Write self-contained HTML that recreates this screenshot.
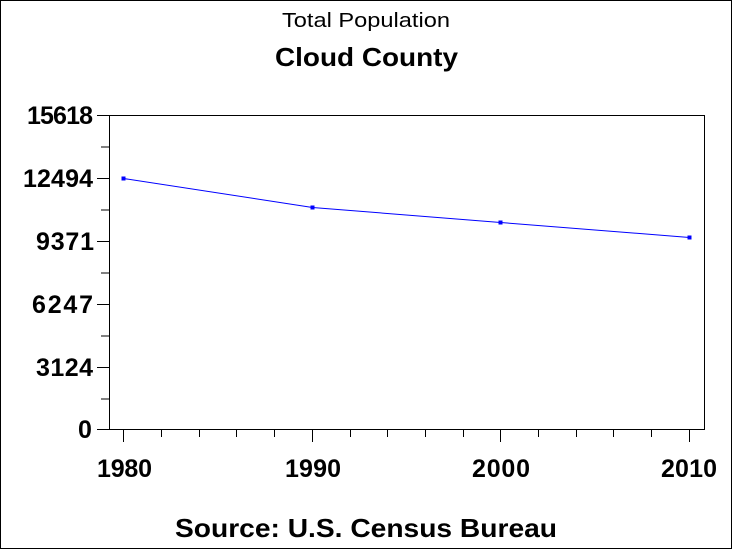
<!DOCTYPE html>
<html><head><style>
body{margin:0;background:#fff}
svg{display:block}
text{font-family:"Liberation Sans",sans-serif}
</style></head><body>
<svg width="733" height="550" viewBox="0 0 733 550">
<rect x="0.5" y="0.5" width="731" height="548" fill="#fff" stroke="#000"/>
<text x="282" y="27" font-size="20" textLength="168" lengthAdjust="spacingAndGlyphs">Total Population</text>
<text x="275" y="66" font-size="26" font-weight="bold" textLength="183" lengthAdjust="spacingAndGlyphs">Cloud County</text>
<rect x="109.5" y="115.5" width="595" height="314" fill="none" stroke="#000"/>
<g stroke="#000">
<line x1="97" y1="115.5" x2="109" y2="115.5"/>
<line x1="101" y1="147" x2="109" y2="147"/>
<line x1="97" y1="178.5" x2="109" y2="178.5"/>
<line x1="101" y1="210" x2="109" y2="210"/>
<line x1="97" y1="241.5" x2="109" y2="241.5"/>
<line x1="101" y1="273" x2="109" y2="273"/>
<line x1="97" y1="304.5" x2="109" y2="304.5"/>
<line x1="101" y1="336" x2="109" y2="336"/>
<line x1="97" y1="367.5" x2="109" y2="367.5"/>
<line x1="101" y1="399" x2="109" y2="399"/>
<line x1="97" y1="429.5" x2="109" y2="429.5"/>
<line x1="123.5" y1="430" x2="123.5" y2="442"/>
<line x1="161.5" y1="430" x2="161.5" y2="437"/>
<line x1="199.5" y1="430" x2="199.5" y2="437"/>
<line x1="236.5" y1="430" x2="236.5" y2="437"/>
<line x1="274.5" y1="430" x2="274.5" y2="437"/>
<line x1="312.5" y1="430" x2="312.5" y2="442"/>
<line x1="350.5" y1="430" x2="350.5" y2="437"/>
<line x1="387.5" y1="430" x2="387.5" y2="437"/>
<line x1="425.5" y1="430" x2="425.5" y2="437"/>
<line x1="463.5" y1="430" x2="463.5" y2="437"/>
<line x1="500.5" y1="430" x2="500.5" y2="442"/>
<line x1="538.5" y1="430" x2="538.5" y2="437"/>
<line x1="576.5" y1="430" x2="576.5" y2="437"/>
<line x1="613.5" y1="430" x2="613.5" y2="437"/>
<line x1="651.5" y1="430" x2="651.5" y2="437"/>
<line x1="689.5" y1="430" x2="689.5" y2="442"/>
</g>
<g font-size="25" font-weight="bold" lengthAdjust="spacingAndGlyphs">
<text x="27" y="124" textLength="66">15618</text>
<text x="23" y="187" textLength="70">12494</text>
<text x="36" y="250" textLength="58">9371</text>
<text x="32" y="313" textLength="61">6247</text>
<text x="36" y="376" textLength="57">3124</text>
<text x="78" y="438" textLength="15">0</text>
</g>
<g font-size="25" font-weight="bold" lengthAdjust="spacingAndGlyphs">
<text x="97" y="477" textLength="55">1980</text>
<text x="285" y="477" textLength="56">1990</text>
<text x="472" y="477" textLength="58">2000</text>
<text x="661" y="477" textLength="56">2010</text>
</g>
<polyline points="123.5,178.5 312.5,207.5 500.5,222.5 689.5,237.5" fill="none" stroke="#0000ff" stroke-width="1"/>
<g fill="#0000ff">
<rect x="121.5" y="176.5" width="4" height="4"/>
<rect x="310.5" y="205.5" width="4" height="4"/>
<rect x="498.5" y="220.5" width="4" height="4"/>
<rect x="687.5" y="235.5" width="4" height="4"/>
</g>
<text x="175" y="537" font-size="26" font-weight="bold" textLength="382" lengthAdjust="spacingAndGlyphs">Source: U.S. Census Bureau</text>
</svg>
</body></html>
